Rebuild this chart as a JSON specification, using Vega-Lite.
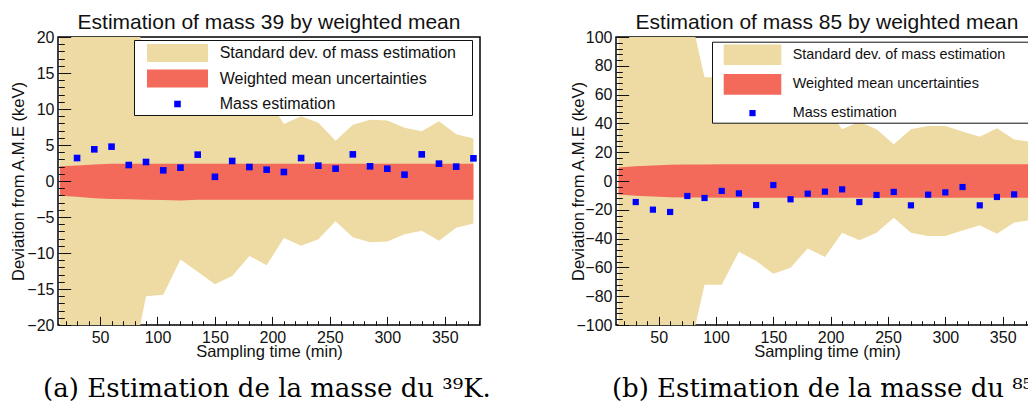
{
  "$schema": "https://vega.github.io/schema/vega-lite/v6.json",
  "background": "white",
  "padding": {"left": 10, "top": 11, "right": 0, "bottom": 0},
  "spacing": 78,
  "config": {
    "font": "Liberation Sans",
    "view": {"stroke": "#000", "strokeWidth": 1.5},
    "axis": {"zindex": 2, "grid": false, "domain": false, "tickColor": "#111", "tickWidth": 1, "labelFont": "Liberation Sans", "labelFontSize": 16, "labelColor": "#111", "labelFlush": false, "labelOverlap": false, "titleFont": "Liberation Sans", "titleFontSize": 16.5, "titleFontWeight": "normal", "titleColor": "#111", "titleBaseline": "alphabetic"}
  },
  "resolve": {"scale": {"color": "independent", "shape": "independent"}, "legend": {"color": "independent", "shape": "independent"}},
  "hconcat": [
    {
      "title": {"text": "(a) Estimation de la masse du ³⁹K.", "orient": "bottom", "anchor": "start", "font": "DejaVu Serif", "fontSize": 26, "fontWeight": "normal", "color": "#000", "baseline": "alphabetic", "offset": 37, "dx": 33},
      "vconcat": [
        {
          "title": {"text": "Estimation of mass 39 by weighted mean", "font": "Liberation Sans", "fontSize": 21, "fontWeight": "normal", "color": "#111", "anchor": "middle", "frame": "group", "baseline": "top", "offset": -4.4},
          "width": 422,
          "height": 288,
          "data": {"values": [
            {"t": 15, "sdHi": 60, "sdLo": -60, "wmHi": 2.05, "wmLo": -2.05, "m": null, "series": "Mass estimation"},
            {"t": 30, "sdHi": 45, "sdLo": -45, "wmHi": 2.15, "wmLo": -2.2, "m": 3.19, "series": "Mass estimation"},
            {"t": 45, "sdHi": 40, "sdLo": -40, "wmHi": 2.3, "wmLo": -2.4, "m": 4.4, "series": "Mass estimation"},
            {"t": 60, "sdHi": 35, "sdLo": -35, "wmHi": 2.4, "wmLo": -2.5, "m": 4.77, "series": "Mass estimation"},
            {"t": 75, "sdHi": 28, "sdLo": -28, "wmHi": 2.4, "wmLo": -2.55, "m": 2.22, "series": "Mass estimation"},
            {"t": 90, "sdHi": 16, "sdLo": -16, "wmHi": 2.4, "wmLo": -2.6, "m": 2.64, "series": "Mass estimation"},
            {"t": 105, "sdHi": 15.8, "sdLo": -15.8, "wmHi": 2.4, "wmLo": -2.65, "m": 1.48, "series": "Mass estimation"},
            {"t": 120, "sdHi": 10.9, "sdLo": -10.9, "wmHi": 2.4, "wmLo": -2.7, "m": 1.85, "series": "Mass estimation"},
            {"t": 135, "sdHi": 12.6, "sdLo": -12.6, "wmHi": 2.4, "wmLo": -2.6, "m": 3.66, "series": "Mass estimation"},
            {"t": 150, "sdHi": 14.35, "sdLo": -14.35, "wmHi": 2.4, "wmLo": -2.6, "m": 0.58, "series": "Mass estimation"},
            {"t": 165, "sdHi": 13.2, "sdLo": -13.2, "wmHi": 2.4, "wmLo": -2.6, "m": 2.78, "series": "Mass estimation"},
            {"t": 180, "sdHi": 10.4, "sdLo": -10.4, "wmHi": 2.4, "wmLo": -2.6, "m": 1.94, "series": "Mass estimation"},
            {"t": 195, "sdHi": 11.7, "sdLo": -11.7, "wmHi": 2.4, "wmLo": -2.6, "m": 1.57, "series": "Mass estimation"},
            {"t": 210, "sdHi": 7.9, "sdLo": -7.9, "wmHi": 2.4, "wmLo": -2.6, "m": 1.25, "series": "Mass estimation"},
            {"t": 225, "sdHi": 9.0, "sdLo": -9.0, "wmHi": 2.4, "wmLo": -2.6, "m": 3.19, "series": "Mass estimation"},
            {"t": 240, "sdHi": 8.1, "sdLo": -8.1, "wmHi": 2.4, "wmLo": -2.6, "m": 2.13, "series": "Mass estimation"},
            {"t": 255, "sdHi": 5.6, "sdLo": -5.6, "wmHi": 2.4, "wmLo": -2.6, "m": 1.71, "series": "Mass estimation"},
            {"t": 270, "sdHi": 7.8, "sdLo": -7.8, "wmHi": 2.4, "wmLo": -2.6, "m": 3.7, "series": "Mass estimation"},
            {"t": 285, "sdHi": 8.5, "sdLo": -8.5, "wmHi": 2.4, "wmLo": -2.6, "m": 2.04, "series": "Mass estimation"},
            {"t": 300, "sdHi": 8.4, "sdLo": -8.4, "wmHi": 2.4, "wmLo": -2.6, "m": 1.71, "series": "Mass estimation"},
            {"t": 315, "sdHi": 7.4, "sdLo": -7.4, "wmHi": 2.4, "wmLo": -2.6, "m": 0.88, "series": "Mass estimation"},
            {"t": 330, "sdHi": 6.9, "sdLo": -6.9, "wmHi": 2.4, "wmLo": -2.6, "m": 3.7, "series": "Mass estimation"},
            {"t": 345, "sdHi": 8.3, "sdLo": -8.3, "wmHi": 2.4, "wmLo": -2.6, "m": 2.41, "series": "Mass estimation"},
            {"t": 360, "sdHi": 6.5, "sdLo": -6.5, "wmHi": 2.4, "wmLo": -2.6, "m": 1.99, "series": "Mass estimation"},
            {"t": 375, "sdHi": 5.9, "sdLo": -5.9, "wmHi": 2.4, "wmLo": -2.6, "m": 3.15, "series": "Mass estimation"}
          ]},
          "resolve": {"axis": {"x": "independent", "y": "independent"}},
          "layer": [
            {"mark": {"type": "area", "color": "#eedaa3", "clip": true, "opacity": 1},
             "encoding": {
               "x": {"field": "t", "type": "quantitative", "scale": {"domain": [13.4, 380.7], "nice": false, "zero": false},
                 "axis": {"orient": "bottom", "zindex": 2, "values": [50,100,150,200,250,300,350], "tickSize": -8.6, "labelPadding": 12.6, "title": "Sampling time (min)", "titlePadding": 11}},
               "y": {"field": "sdHi", "type": "quantitative", "scale": {"domain": [-20, 20], "nice": false, "zero": false},
                 "axis": {"orient": "left", "zindex": 2, "values": [-20,-15,-10,-5,0,5,10,15,20], "tickSize": -12.7, "labelPadding": 16.7, "title": "Deviation from A.M.E (keV)", "titlePadding": 3}},
               "y2": {"field": "sdLo"}}},
            {"mark": {"type": "area", "color": "#f36a5a", "clip": true, "opacity": 1},
             "encoding": {
               "x": {"field": "t", "type": "quantitative",
                 "axis": {"orient": "bottom", "zindex": 2, "values": [20,30,40,60,70,80,90,110,120,130,140,160,170,180,190,210,220,230,240,260,270,280,290,310,320,330,340,360,370,380], "tickSize": -4.3, "labels": false, "title": null}},
               "y": {"field": "wmHi", "type": "quantitative",
                 "axis": {"orient": "left", "zindex": 2, "values": [-19,-18,-17,-16,-14,-13,-12,-11,-9,-8,-7,-6,-4,-3,-2,-1,1,2,3,4,6,7,8,9,11,12,13,14,16,17,18,19], "tickSize": -6.3, "labels": false, "title": null}},
               "y2": {"field": "wmLo"}}},
            {"mark": {"type": "point", "filled": true, "opacity": 1, "size": 400, "strokeWidth": 0, "clip": true},
             "encoding": {
               "x": {"field": "t", "type": "quantitative", "axis": null},
               "y": {"field": "m", "type": "quantitative", "axis": null},
               "color": {"field": "series", "type": "nominal",
                 "scale": {"domain": ["Standard dev. of mass estimation", "Weighted mean uncertainties", "Mass estimation"], "range": ["#eedaa3", "#f36a5a", "#0000ff"]},
                 "legend": {"orient": "none", "legendX": 76, "legendY": 3, "title": "\u00a0", "titleOrient": "right", "titlePadding": 13, "titleFontSize": 4, "padding": 3, "rowPadding": 6.5, "symbolOffset": 30.5, "labelOffset": 32.2, "labelFont": "Liberation Sans", "labelFontSize": 16, "labelColor": "#111", "labelLimit": 0, "symbolSize": 400, "symbolStrokeWidth": 0, "symbolOpacity": 1, "strokeColor": "#111", "fillColor": "white"}},
               "shape": {"field": "series", "type": "nominal",
                 "scale": {"domain": ["Standard dev. of mass estimation", "Weighted mean uncertainties", "Mass estimation"], "range": ["M-3.05,-0.9H3.05V0.9H-3.05Z", "M-3.05,-0.9H3.05V0.9H-3.05Z", "M-0.33,-0.33H0.33V0.33H-0.33Z"]},
                 "legend": {"orient": "none", "legendX": 76, "legendY": 3, "title": "\u00a0", "titleOrient": "right", "titlePadding": 13, "titleFontSize": 4, "padding": 3, "rowPadding": 6.5, "symbolOffset": 30.5, "labelOffset": 32.2, "labelFont": "Liberation Sans", "labelFontSize": 16, "labelColor": "#111", "labelLimit": 0, "symbolSize": 400, "symbolStrokeWidth": 0, "symbolOpacity": 1, "strokeColor": "#111", "fillColor": "white"}}
             }}
          ]
        }
      ]
    },
    {
      "title": {"text": "(b) Estimation de la masse du ⁸⁵Rb.", "orient": "bottom", "anchor": "start", "font": "DejaVu Serif", "fontSize": 26, "fontWeight": "normal", "color": "#000", "baseline": "alphabetic", "offset": 37, "dx": 42},
      "vconcat": [
        {
          "title": {"text": "Estimation of mass 85 by weighted mean", "font": "Liberation Sans", "fontSize": 21, "fontWeight": "normal", "color": "#111", "anchor": "middle", "frame": "group", "baseline": "top", "offset": -4.4},
          "width": 422,
          "height": 288,
          "data": {"values": [
            {"t": 15, "sdHi": 250, "sdLo": -250, "wmHi": 9.3, "wmLo": -9.3, "m": null, "series": "Mass estimation"},
            {"t": 30, "sdHi": 200, "sdLo": -200, "wmHi": 10.3, "wmLo": -10.3, "m": -14.6, "series": "Mass estimation"},
            {"t": 45, "sdHi": 170, "sdLo": -170, "wmHi": 10.8, "wmLo": -10.8, "m": -19.9, "series": "Mass estimation"},
            {"t": 60, "sdHi": 150, "sdLo": -150, "wmHi": 11.2, "wmLo": -11.2, "m": -21.5, "series": "Mass estimation"},
            {"t": 75, "sdHi": 125, "sdLo": -125, "wmHi": 11.4, "wmLo": -11.4, "m": -10.4, "series": "Mass estimation"},
            {"t": 90, "sdHi": 72, "sdLo": -72, "wmHi": 11.5, "wmLo": -11.5, "m": -11.8, "series": "Mass estimation"},
            {"t": 105, "sdHi": 72, "sdLo": -72, "wmHi": 11.6, "wmLo": -11.6, "m": -6.9, "series": "Mass estimation"},
            {"t": 120, "sdHi": 49.1, "sdLo": -49.1, "wmHi": 11.7, "wmLo": -11.7, "m": -8.6, "series": "Mass estimation"},
            {"t": 135, "sdHi": 55.6, "sdLo": -55.6, "wmHi": 11.7, "wmLo": -11.7, "m": -16.7, "series": "Mass estimation"},
            {"t": 150, "sdHi": 64.4, "sdLo": -64.4, "wmHi": 11.6, "wmLo": -11.6, "m": -2.8, "series": "Mass estimation"},
            {"t": 165, "sdHi": 60.2, "sdLo": -60.2, "wmHi": 11.6, "wmLo": -11.6, "m": -12.7, "series": "Mass estimation"},
            {"t": 180, "sdHi": 46.8, "sdLo": -46.8, "wmHi": 11.6, "wmLo": -11.6, "m": -8.8, "series": "Mass estimation"},
            {"t": 195, "sdHi": 52.8, "sdLo": -52.8, "wmHi": 11.6, "wmLo": -11.6, "m": -7.4, "series": "Mass estimation"},
            {"t": 210, "sdHi": 35.9, "sdLo": -35.9, "wmHi": 11.6, "wmLo": -11.6, "m": -5.8, "series": "Mass estimation"},
            {"t": 225, "sdHi": 41.2, "sdLo": -41.2, "wmHi": 11.6, "wmLo": -11.6, "m": -14.6, "series": "Mass estimation"},
            {"t": 240, "sdHi": 35.9, "sdLo": -35.9, "wmHi": 11.6, "wmLo": -11.6, "m": -9.7, "series": "Mass estimation"},
            {"t": 255, "sdHi": 25.5, "sdLo": -25.5, "wmHi": 11.6, "wmLo": -11.6, "m": -7.6, "series": "Mass estimation"},
            {"t": 270, "sdHi": 35.9, "sdLo": -35.9, "wmHi": 11.6, "wmLo": -11.6, "m": -16.9, "series": "Mass estimation"},
            {"t": 285, "sdHi": 38.2, "sdLo": -38.2, "wmHi": 11.6, "wmLo": -11.6, "m": -9.5, "series": "Mass estimation"},
            {"t": 300, "sdHi": 38.2, "sdLo": -38.2, "wmHi": 11.6, "wmLo": -11.6, "m": -7.9, "series": "Mass estimation"},
            {"t": 315, "sdHi": 34.3, "sdLo": -34.3, "wmHi": 11.6, "wmLo": -11.6, "m": -4.2, "series": "Mass estimation"},
            {"t": 330, "sdHi": 30.8, "sdLo": -30.8, "wmHi": 11.6, "wmLo": -11.6, "m": -16.9, "series": "Mass estimation"},
            {"t": 345, "sdHi": 36.6, "sdLo": -36.6, "wmHi": 11.6, "wmLo": -11.6, "m": -11.1, "series": "Mass estimation"},
            {"t": 360, "sdHi": 28.9, "sdLo": -28.9, "wmHi": 11.6, "wmLo": -11.6, "m": -9.3, "series": "Mass estimation"},
            {"t": 375, "sdHi": 27.1, "sdLo": -27.1, "wmHi": 11.6, "wmLo": -11.6, "m": -14.4, "series": "Mass estimation"}
          ]},
          "resolve": {"axis": {"x": "independent", "y": "independent"}},
          "layer": [
            {"mark": {"type": "area", "color": "#eedaa3", "clip": true, "opacity": 1},
             "encoding": {
               "x": {"field": "t", "type": "quantitative", "scale": {"domain": [12.8, 380.8], "nice": false, "zero": false},
                 "axis": {"orient": "bottom", "zindex": 2, "values": [50,100,150,200,250,300,350], "tickSize": -8.6, "labelPadding": 12.6, "title": "Sampling time (min)", "titlePadding": 11}},
               "y": {"field": "sdHi", "type": "quantitative", "scale": {"domain": [-100, 100], "nice": false, "zero": false},
                 "axis": {"orient": "left", "zindex": 2, "values": [-100,-80,-60,-40,-20,0,20,40,60,80,100], "tickSize": -12.7, "labelPadding": 16.7, "title": "Deviation from A.M.E (keV)", "titlePadding": -7.7}},
               "y2": {"field": "sdLo"}}},
            {"mark": {"type": "area", "color": "#f36a5a", "clip": true, "opacity": 1},
             "encoding": {
               "x": {"field": "t", "type": "quantitative",
                 "axis": {"orient": "bottom", "zindex": 2, "values": [20,30,40,60,70,80,90,110,120,130,140,160,170,180,190,210,220,230,240,260,270,280,290,310,320,330,340,360,370,380], "tickSize": -4.3, "labels": false, "title": null}},
               "y": {"field": "wmHi", "type": "quantitative",
                 "axis": {"orient": "left", "zindex": 2, "values": [-96,-92,-88,-84,-76,-72,-68,-64,-56,-52,-48,-44,-36,-32,-28,-24,-16,-12,-8,-4,4,8,12,16,24,28,32,36,44,48,52,56,64,68,72,76,84,88,92,96], "tickSize": -6.3, "labels": false, "title": null}},
               "y2": {"field": "wmLo"}}},
            {"mark": {"type": "point", "filled": true, "opacity": 1, "size": 400, "strokeWidth": 0, "clip": true},
             "encoding": {
               "x": {"field": "t", "type": "quantitative", "axis": null},
               "y": {"field": "m", "type": "quantitative", "axis": null},
               "color": {"field": "series", "type": "nominal",
                 "scale": {"domain": ["Standard dev. of mass estimation", "Weighted mean uncertainties", "Mass estimation"], "range": ["#eedaa3", "#f36a5a", "#0000ff"]},
                 "legend": {"orient": "none", "legendX": 96, "legendY": 4.7, "title": "\u00a0", "titleOrient": "right", "titlePadding": 30, "titleFontSize": 4, "padding": 3, "rowPadding": 7.7, "symbolOffset": 27.5, "labelOffset": 30.2, "labelFont": "Liberation Sans", "labelFontSize": 14.4, "labelColor": "#111", "labelLimit": 0, "symbolSize": 400, "symbolStrokeWidth": 0, "symbolOpacity": 1, "strokeColor": "#111", "fillColor": "white"}},
               "shape": {"field": "series", "type": "nominal",
                 "scale": {"domain": ["Standard dev. of mass estimation", "Weighted mean uncertainties", "Mass estimation"], "range": ["M-2.88,-1.03H2.88V1.03H-2.88Z", "M-2.88,-1.03H2.88V1.03H-2.88Z", "M-0.31,-0.31H0.31V0.31H-0.31Z"]},
                 "legend": {"orient": "none", "legendX": 96, "legendY": 4.7, "title": "\u00a0", "titleOrient": "right", "titlePadding": 30, "titleFontSize": 4, "padding": 3, "rowPadding": 7.7, "symbolOffset": 27.5, "labelOffset": 30.2, "labelFont": "Liberation Sans", "labelFontSize": 14.4, "labelColor": "#111", "labelLimit": 0, "symbolSize": 400, "symbolStrokeWidth": 0, "symbolOpacity": 1, "strokeColor": "#111", "fillColor": "white"}}
             }}
          ]
        }
      ]
    }
  ]
}
